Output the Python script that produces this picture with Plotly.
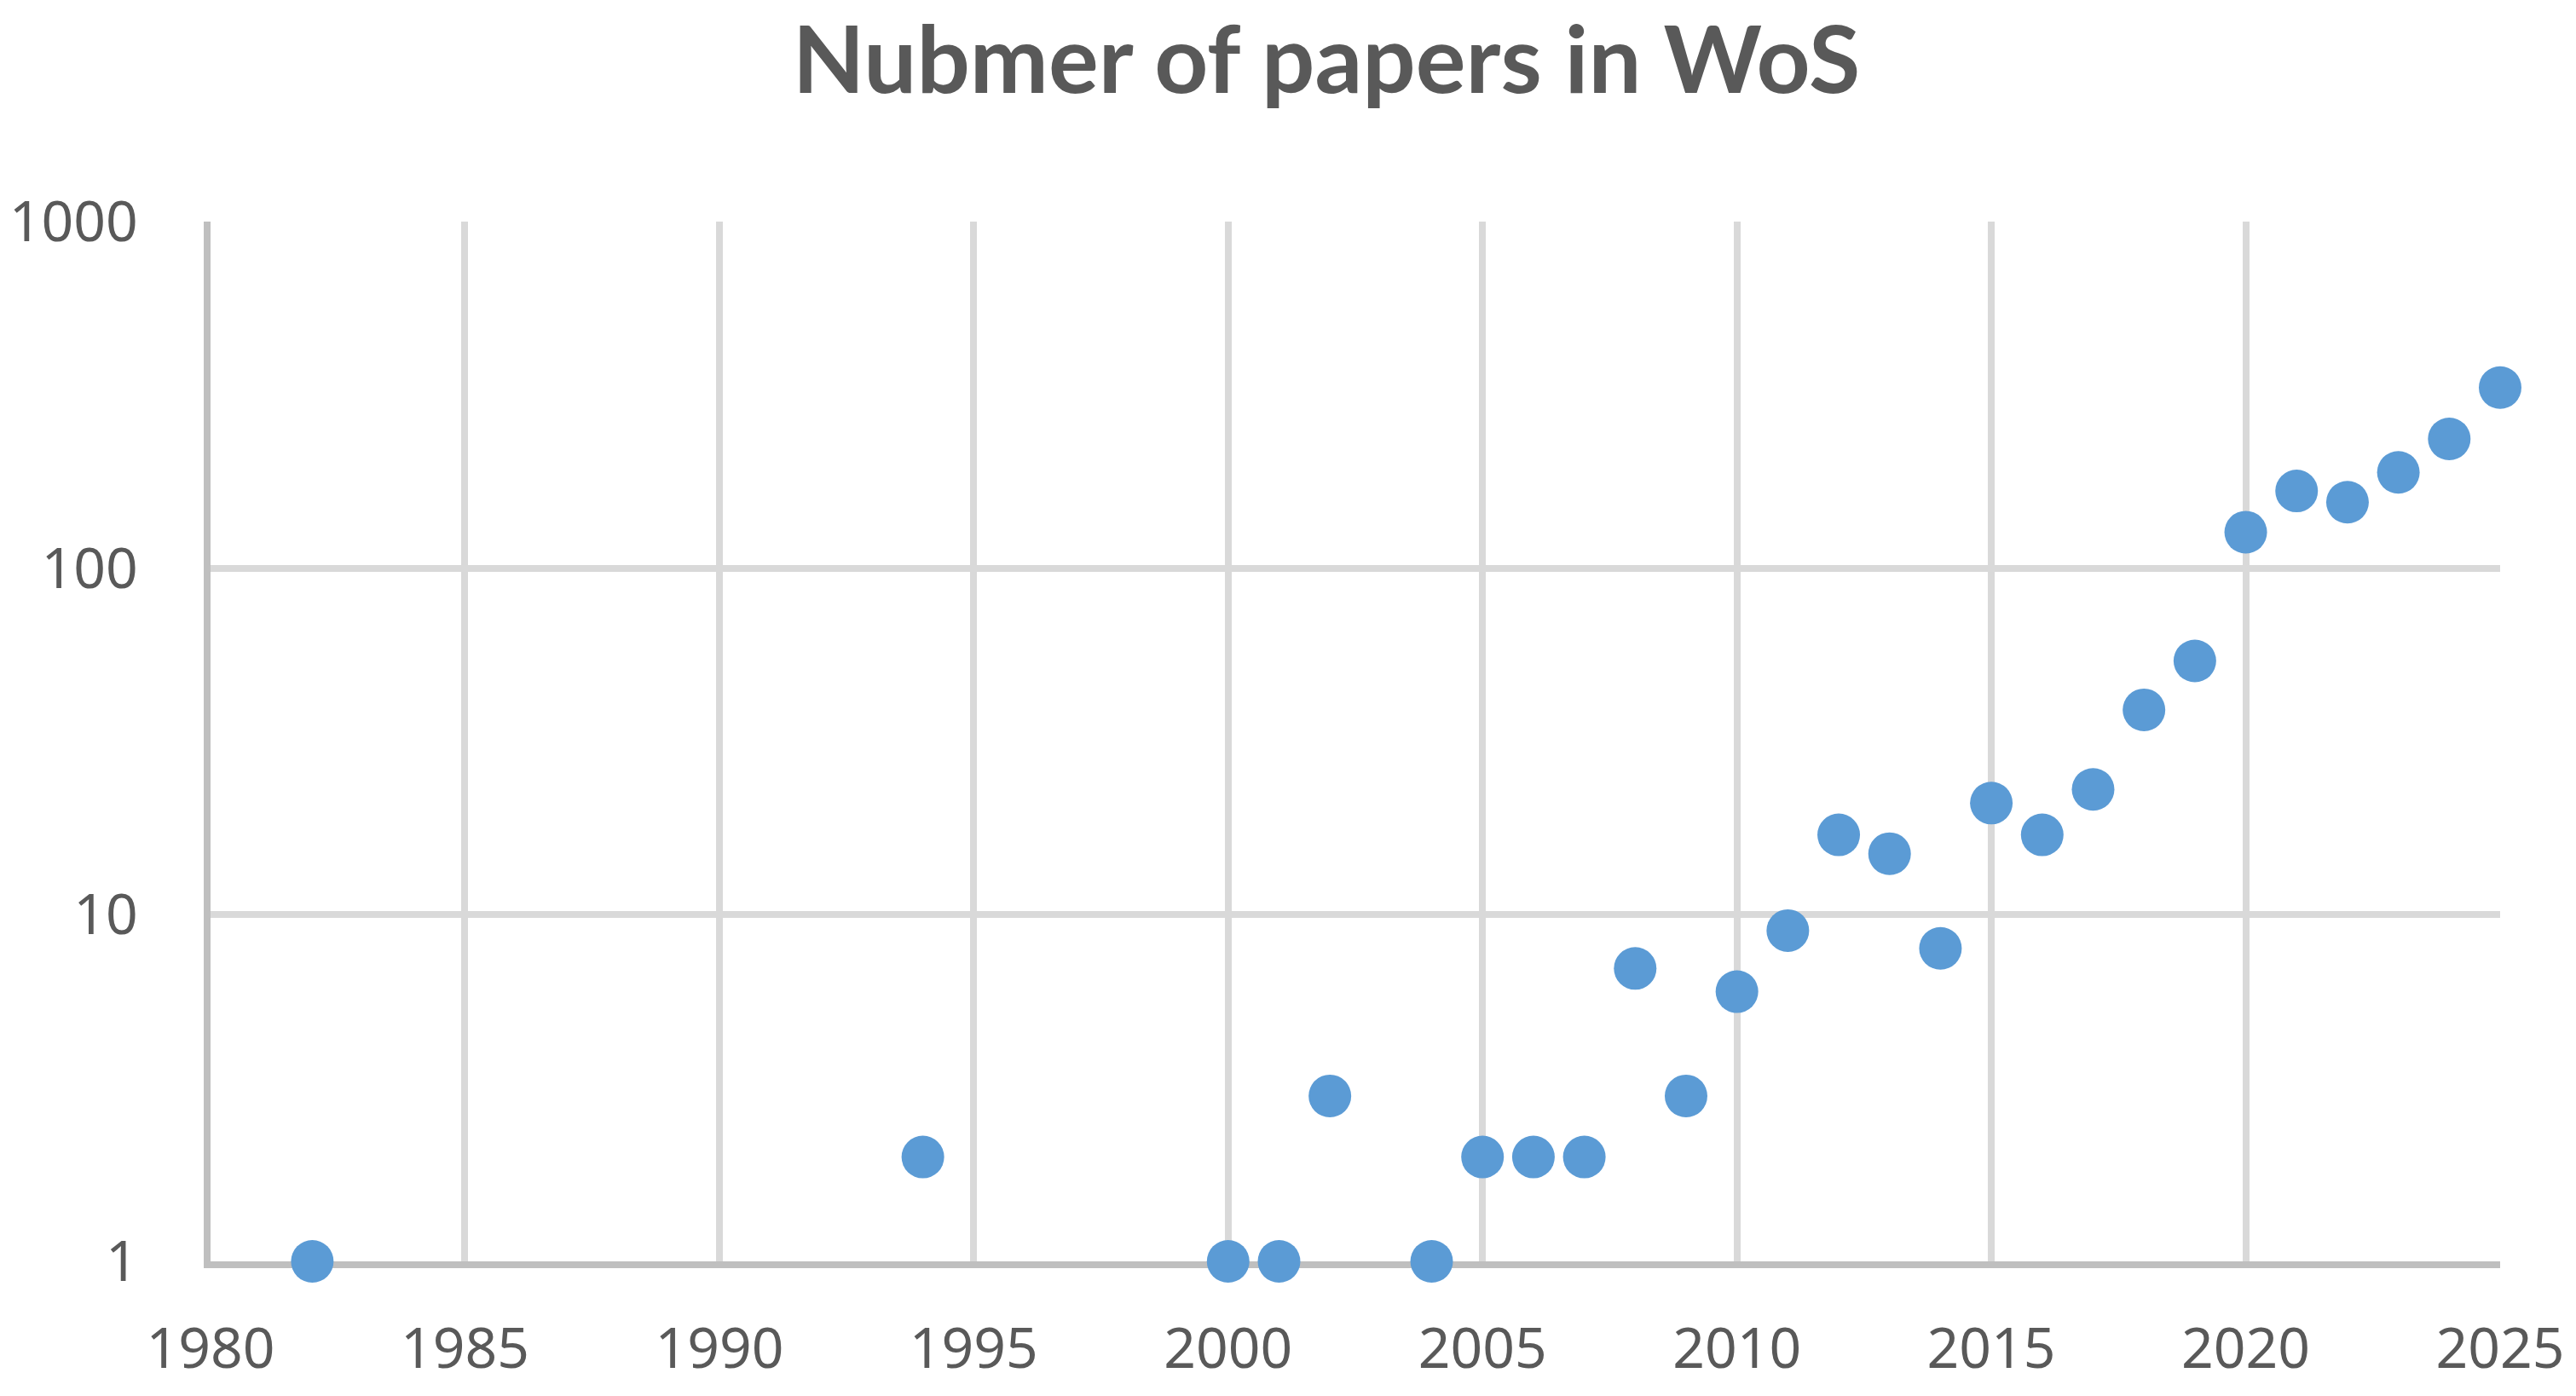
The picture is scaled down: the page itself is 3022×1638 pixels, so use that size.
import plotly.graph_objects as go

years = [1982, 1994, 2000, 2001, 2002, 2004, 2005, 2006, 2007, 2008, 2009, 2010,
         2011, 2012, 2013, 2014, 2015, 2016, 2017, 2018, 2019, 2020, 2021, 2022,
         2023, 2024, 2025]
papers = [1, 2, 1, 1, 3, 1, 2, 2, 2, 7, 3, 6,
          9, 17, 15, 8, 21, 17, 23, 39, 54, 127, 167, 155,
          189, 236, 332]

x_ticks = [1980, 1985, 1990, 1995, 2000, 2005, 2010, 2015, 2020, 2025]
y_ticks = [1, 10, 100, 1000]
title_text = "Nubmer of papers in WoS"

TEXT = "#595959"
GRID = "#d9d9d9"
AXIS = "#bfbfbf"
DOT = "#5b9bd5"

W, H = 3014, 1630

fig = go.Figure()
fig.add_trace(go.Scatter(
    x=years, y=papers, mode="markers",
    marker=dict(color=DOT, size=50, line=dict(width=0)),
    cliponaxis=False, showlegend=False,
))

fig.update_layout(
    width=W, height=H,
    margin=dict(l=239, r=89, t=252, b=158, autoexpand=False),
    paper_bgcolor="white", plot_bgcolor="white",
    title=dict(text=title_text, x=1548 / W, xref="container", xanchor="center",
               y=1 - 24 / H, yref="container", yanchor="top",
               font=dict(family="Lato", size=110, color=TEXT, weight=700)),
    font=dict(family="Noto Sans", color=TEXT),
)

fig.update_xaxes(
    range=[1980, 2025], tickmode="array", tickvals=x_ticks,
    ticktext=[str(t) for t in x_ticks],
    showgrid=True, gridcolor=GRID, gridwidth=8,
    showline=True, linecolor=AXIS, linewidth=8,
    zeroline=False, ticks="", ticklabelstandoff=38, automargin=False,
    tickfont=dict(family="Noto Sans", size=66, color=TEXT),
    layer="below traces",
)
fig.update_yaxes(
    type="log", range=[0, 3], tickmode="array", tickvals=y_ticks,
    ticktext=[str(t) for t in y_ticks],
    showgrid=True, gridcolor=GRID, gridwidth=8,
    showline=True, linecolor=AXIS, linewidth=8,
    zeroline=False, ticks="", ticklabelstandoff=64, automargin=False,
    tickfont=dict(family="Noto Sans", size=66, color=TEXT),
    layer="below traces",
)

fig.write_html("out.html")
